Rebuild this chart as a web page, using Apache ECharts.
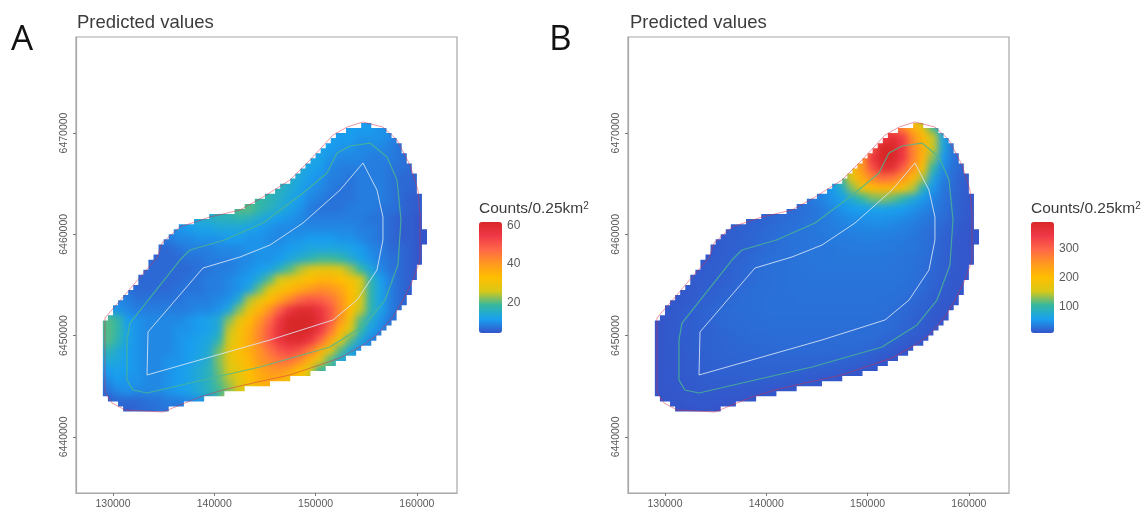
<!DOCTYPE html>
<html><head><meta charset="utf-8">
<style>html,body{margin:0;padding:0;background:#fff}#c{width:1145px;height:513px}
canvas[data-zr-dom-id="zr_0"]{filter:blur(3.5px)}</style>
<script src="https://cdn.jsdelivr.net/npm/echarts@6/dist/echarts.min.js"></script>
</head><body><div id="c"></div>
<script>
// Tick labels
const xTicks = [130000, 140000, 150000, 160000];
const yTicks = [6440000, 6450000, 6460000, 6470000];
const legendTicksA = [20, 40, 60];
const legendTicksB = [100, 200, 300];
const legendRangeA = [4, 62];
const legendRangeB = [10, 393];

// 1 km raster: row lower edge (km northing), first column of each row (km easting)
const rowY = [6470,6469,6468,6467,6466,6465,6464,6463,6462,6461,6460,6459,6458,6457,6456,6455,6454,6453,6452,6451,6450,6449,6448,6447,6446,6445,6444,6443,6442];
const rowStart = [152,150,149,148,147,146,145,143,140,137,135,134,134,133,132,132,131,130,129,129,129,129,129,129,129,129,129,129,131];

const valuesA = [
[10,11,11,11,10,9],
[12,12,11,11,10,10,10,9,7],
[13,12,11,10,10,9,9,9,8,7],
[14,13,12,10,9,9,9,8,8,8,7,6],
[15,14,12,11,9,8,8,8,8,8,7,7,6],
[16,15,13,11,10,8,8,7,8,8,8,7,6,6],
[17,16,14,12,10,9,8,7,7,8,8,8,7,6,6,5],
[19,18,17,15,13,11,9,8,7,7,7,8,8,8,7,6,5,5],
[17,18,20,20,18,16,14,12,10,8,7,7,7,8,8,8,7,7,6,5,5],
[12,14,15,16,16,17,16,14,12,11,10,9,8,8,8,8,8,8,7,7,6,5,5,4],
[9,10,11,12,12,13,13,13,12,11,10,9,9,9,9,9,9,9,9,8,8,7,6,5,5,4],
[7,8,9,9,10,10,10,11,11,10,10,9,9,10,10,11,11,11,10,10,9,8,7,6,5,5,4],
[6,6,7,8,8,8,9,9,9,10,10,10,10,11,12,13,13,13,13,12,11,9,8,6,6,5,4],
[6,6,6,6,7,7,8,8,8,9,9,10,10,11,13,15,17,19,19,18,15,12,10,8,7,6,5,4],
[6,6,6,6,6,6,7,7,8,8,9,10,11,12,16,20,24,27,29,29,27,23,18,13,9,7,6,5,4],
[6,6,6,6,6,7,7,8,8,9,10,11,14,20,26,29,31,33,35,35,33,31,26,17,11,8,6,5],
[7,6,6,6,6,7,7,7,8,8,9,10,13,21,28,31,34,37,40,42,41,38,33,26,17,12,8,6,5],
[9,8,7,7,7,7,7,8,8,8,9,10,14,24,29,33,38,43,48,50,49,46,41,34,26,17,12,8,6,5],
[12,10,9,8,8,8,8,8,8,9,9,10,13,22,29,35,41,49,56,60,60,56,50,42,33,25,17,12,8,6],
[20,18,11,10,9,9,9,9,10,11,12,14,22,29,34,40,47,56,62,64,62,58,50,40,30,20,14,10,7],
[20,18,12,10,9,9,9,10,10,11,12,14,25,31,36,43,50,58,63,64,61,55,46,35,26,18,12,9,7],
[20,17,12,10,9,9,9,10,11,12,13,17,26,31,37,43,50,56,60,60,56,48,38,28,20,13,9,7],
[17,14,11,10,9,9,9,10,11,12,14,21,28,32,36,41,46,51,53,51,45,36,27,20,13,9],
[14,13,11,10,9,9,10,10,11,13,15,22,28,31,35,40,43,46,46,42,35,28,20,13],
[11,12,11,10,9,9,10,11,12,14,16,21,26,29,33,37,40,41,38,33,26,18],
[9,11,10,10,9,9,10,11,12,14,16,20,24,28,32,36,37,35,30],
[7,9,10,9,9,9,10,11,12,14,16,19,22,26],
[5,6,6,6,7,7,8,8,9,10],
[5,6,6,7,7]
];

const valuesB = [
[300,270,220,175,110,60],
[270,340,370,340,260,210,150,65,35],
[200,320,393,393,350,270,220,150,70,30],
[180,250,350,393,393,350,275,215,130,55,30,20],
[125,185,250,320,375,370,310,250,190,100,45,28,20],
[62,110,175,225,265,290,285,250,210,140,68,38,25,18],
[40,55,80,130,175,205,215,210,190,145,90,52,33,24,17,12],
[30,34,40,50,62,80,105,125,130,120,100,75,55,40,30,22,16,12],
[20,22,24,27,30,35,42,50,56,60,62,62,60,57,50,42,35,28,22,15,12],
[16,18,20,22,24,26,28,30,34,38,42,46,48,50,50,48,44,40,34,30,26,20,15,12],
[14,16,18,20,22,24,26,28,30,32,34,36,38,40,41,42,42,40,38,34,30,26,21,17,13,11],
[13,15,17,19,21,23,25,27,29,30,31,32,34,35,36,37,37,36,35,34,32,28,24,19,15,12,11],
[13,15,17,19,21,23,25,27,29,30,31,31,32,33,34,34,34,34,33,32,31,29,24,19,14,12,11],
[13,15,16,18,20,23,25,27,28,29,30,31,31,32,32,32,32,32,32,31,30,29,27,23,18,14,12,11],
[13,14,16,17,19,22,24,26,27,28,29,30,30,31,31,31,31,31,31,31,30,30,29,26,22,18,14,12,11],
[14,15,16,17,19,22,24,26,27,28,29,29,30,30,30,30,30,30,30,30,30,29,28,25,21,17,13,12],
[13,14,16,17,19,21,24,26,27,27,28,29,29,29,29,29,29,29,29,29,29,29,28,26,23,19,15,13,12],
[12,13,15,17,18,21,23,25,26,27,28,28,28,29,29,29,29,29,29,29,29,28,28,26,24,21,17,14,12,11],
[12,13,15,16,18,21,23,25,26,26,27,28,28,28,28,28,28,28,28,28,28,28,27,26,24,21,18,15,13,11],
[11,13,15,16,18,20,23,24,25,26,26,27,27,27,27,27,27,27,27,27,27,27,26,25,22,19,16,13,11],
[11,13,15,16,18,19,22,23,24,25,25,26,26,26,26,26,26,26,26,26,26,26,25,23,21,18,15,13,11],
[11,13,15,16,18,19,20,22,23,24,24,24,25,25,25,25,25,25,25,25,25,24,22,20,17,14,12,11],
[11,13,14,16,18,19,20,21,22,22,23,23,23,24,24,24,24,24,23,23,22,20,18,15,12,11],
[11,13,14,15,16,18,19,20,20,21,21,21,21,21,21,21,21,20,20,19,17,15,12,11],
[11,12,14,15,16,17,18,18,19,19,19,19,19,19,18,17,17,16,15,14,12,11],
[11,12,13,14,15,16,16,16,16,16,16,16,16,15,15,14,13,12,11],
[11,11,12,13,14,14,14,14,14,13,13,12,11,11],
[10,11,11,12,12,12,12,11,11,11],
[10,10,11,11,10]
];

// Stepped study-area edge: top of each 0.5 km row (km northing) and its [west, east] extent (km)
const edgeTop = 6471;
const edgeRows = [
[154.5,155.5],[153,157],[152,157.5],[151.5,158],[151,158.5],[150.5,158.5],[150,159],[149.5,159],[149,159.5],[148.5,159.5],
[148,160],[147.5,160],[146.5,160],[146,160],[145,160.5],[144,160.5],[143,160.5],[142,160.5],[139.5,160.5],[138,160.5],
[136.5,160.5],[136,161],[135.5,161],[135,161],[134.5,160.5],[134.5,160.5],[134,160.5],[133.5,160.5],[133.5,160],[133,160],
[132.5,160],[132.5,159.5],[132,159.5],[131.5,159.5],[131,159],[130.5,159],[130,158.5],[130,158],[129.5,158],[129,157.5],
[129,157],[129,156.5],[129,156],[129,155.5],[129,154.5],[129,154],[129,153],[129,152],[129,151],[129,149.5],
[129,147.5],[129,145.5],[129,143],[129,141],[129.5,139],[130.5,137],[131,135.5]
];

// Survey lines in km (easting, northing)
const outerLine = [[129.21,6451.74],[131.18,6454.01],[132.17,6455.19],[134.34,6457.66],[134.84,6459.14],[136.61,6460.72],[139.58,6461.71],[142.54,6462.40],[144.81,6463.68],[147.47,6465.36],[149.45,6467.33],[151.72,6469.80],[153.10,6470.59],[154.68,6471.09],[156.65,6470.59],[158.04,6469.31],[159.32,6466.84],[160.11,6464.37],[160.31,6461.91],[160.31,6457.46],[159.61,6455.49],[158.63,6453.51],[157.64,6451.84],[156.06,6450.06],[154.68,6449.07],[152.41,6447.79],[147.47,6446.11],[143.82,6445.32],[140.86,6444.63],[138.59,6443.94],[137.11,6443.35],[134.94,6442.46],[131.18,6442.66],[129.90,6443.35],[129.21,6444.43],[129.21,6451.74]];
const greenLine = [[155.37,6469.01],[157.05,6467.63],[158.04,6465.36],[158.43,6461.41],[158.13,6456.97],[156.85,6453.51],[154.88,6451.05],[151.42,6448.87],[144.51,6446.90],[138.88,6445.62],[133.36,6444.33],[131.97,6444.63],[131.38,6445.62],[131.38,6449.57],[131.68,6451.24],[136.61,6457.46],[137.60,6458.45],[141.00,6459.44],[144.81,6461.12],[148.76,6464.08],[151.13,6466.05],[152.11,6468.03],[153.40,6468.72],[155.37,6469.01]];
const whiteLine = [[154.68,6467.04],[152.41,6464.37],[148.76,6461.12],[145.50,6458.94],[142.54,6457.76],[138.88,6456.67],[133.46,6450.36],[133.36,6446.11],[145.50,6449.57],[151.72,6451.54],[154.09,6453.51],[156.06,6456.48],[156.65,6459.44],[156.65,6461.71],[156.06,6464.37],[154.68,6467.04]];

const ramp = ['#3454ca','#18a0f0','#35b8a0','#d8c818','#ffbe00','#ff9820','#ff6848','#f03848','#d82828'];
const toM = a => a.map(p => [p[0]*1000, p[1]*1000]);
const cells = rows => {
  const out = [];
  rows.forEach((r,i) => r.forEach((v,j) => out.push([(rowStart[i]+j)*1000, rowY[i]*1000, v])));
  return out;
};
const edgeM = () => {
  const right = [], left = [];
  edgeRows.forEach((r,i) => {
    const t = edgeTop - i*0.5, b = t - 0.5;
    right.push([r[1]*1000,t*1000],[r[1]*1000,b*1000]);
    left.push([r[0]*1000,t*1000],[r[0]*1000,b*1000]);
  });
  return right.concat(left.reverse());
};
const edge = edgeM();
// pad: extra width in metres, so colour continues beyond the stepped edge before it is masked
const renderCell = pad => (params, api) => {
  const x = api.value(0), y = api.value(1);
  const a = api.coord([x-pad, y+1000+pad]), b = api.coord([x+1000+pad, y-pad]);
  return {
    type:'rect',
    shape:{x:a[0]-0.5, y:a[1]-0.5, width:b[0]-a[0]+1, height:b[1]-a[1]+1},
    style:{fill:api.visual('color')}
  };
};
// white sheet over the plot panel with a hole in the shape of the study area
const renderMask = (params, api) => {
  const r = params.coordSys;
  const pts = [[r.x,r.y],[r.x,r.y+r.height],[r.x+r.width,r.y+r.height],[r.x+r.width,r.y],[r.x,r.y]];
  const hole = edge.map(p => api.coord(p));
  return {type:'polygon', shape:{points:pts.concat(hole, [hole[0], [r.x,r.y]])}, style:{fill:'#fff'}};
};
const axisText = {color:'#5a5a5a', fontSize:10.5, fontFamily:'Liberation Sans'};
const TOP = 1;
const xAxis = gridIndex => ({
  type:'value', gridIndex, zlevel:TOP, z:5, min:126350, max:163960, splitLine:{show:false},
  axisLine:{onZero:false, lineStyle:{color:'#a8a8a8', width:1.2}},
  axisTick:{length:3, customValues:xTicks, lineStyle:{color:'#777'}},
  axisLabel:Object.assign({customValues:xTicks, margin:6, formatter:v => String(v)}, axisText)
});
const yAxis = gridIndex => ({
  type:'value', gridIndex, zlevel:TOP, z:5, min:6434460, max:6479480, splitLine:{show:false},
  axisLine:{onZero:false, lineStyle:{color:'#a8a8a8', width:1.2}},
  axisTick:{length:3, customValues:yTicks, lineStyle:{color:'#777'}},
  axisLabel:Object.assign({customValues:yTicks, rotate:90, margin:6, formatter:v => String(v)}, axisText)
});
const legendY = (gridIndex, range, ticks) => ({
  type:'value', gridIndex, zlevel:TOP, position:'right', min:range[0], max:range[1], splitLine:{show:false},
  axisLine:{show:false}, axisTick:{show:false},
  axisLabel:Object.assign({customValues:ticks, margin:5}, axisText, {fontSize:12})
});
const lineS = (i, data, color, width, opacity) => ({
  type:'line', xAxisIndex:i, yAxisIndex:i, data:toM(data), showSymbol:false, silent:true,
  lineStyle:{color, width, opacity}, zlevel:TOP, z:3, animation:false
});
const cellS = (i, rows, pad, z) => ({
  type:'custom', xAxisIndex:i, yAxisIndex:i, data:cells(rows), renderItem:renderCell(pad),
  encode:{x:0, y:1}, animation:false, silent:true, clip:false, zlevel:0, z
});
const maskS = i => ({
  type:'custom', xAxisIndex:i, yAxisIndex:i, data:[[0]], renderItem:renderMask, silent:true,
  animation:false, clip:false, zlevel:TOP, z:1
});
const grids = [
  {left:76, top:37, width:381, height:456},
  {left:628, top:37, width:381, height:456},
  {left:479, top:222, width:23, height:111},
  {left:1031, top:222, width:23, height:111}
].map((g,i) => Object.assign(g, {zlevel:TOP, z:5}, i<2 ? {show:true, borderColor:'#a8a8a8', borderWidth:1.2} : {show:false}));

const titleStyle = {color:'#3c3c3c', fontSize:18.5, fontFamily:'Liberation Sans', fontWeight:'normal'};
const legendFont = {color:'#3c3c3c', fontFamily:'Liberation Sans', fontWeight:'normal'};
const legendTitleStyle = Object.assign({fontSize:15.5}, legendFont, {
  rich:{t:Object.assign({fontSize:15.5}, legendFont), sup:Object.assign({fontSize:10, verticalAlign:'top', padding:[0,0,6,0]}, legendFont)}
});
const panelStyle = {color:'#111', fontSize:35, fontFamily:'Open Sans', fontWeight:'normal'};
const vm = (seriesIndex, range, left) => ({
  type:'continuous', seriesIndex, dimension:2, min:range[0], max:range[1], left, top:222, padding:0,
  itemWidth:23, itemHeight:111, showLabel:false, text:null, calculable:false, hoverLink:false,
  inRange:{color:ramp}, zlevel:TOP
});
const ttl = (text, left, top, textStyle) => ({text, left, top, padding:0, textStyle, zlevel:TOP});

echarts.init(document.getElementById('c'), null, {renderer:'canvas'}).setOption({
  animation:false,
  title:[
    ttl('Predicted values', 77, 13, titleStyle),
    ttl('Predicted values', 630, 13, titleStyle),
    ttl('A', 11, 23, panelStyle),
    ttl('B', 549, 23, panelStyle),
    ttl('{t|Counts/0.25km}{sup|2}', 479, 201, legendTitleStyle),
    ttl('{t|Counts/0.25km}{sup|2}', 1031, 201, legendTitleStyle)
  ],
  grid:grids,
  xAxis:[xAxis(0), xAxis(1), {type:'value', gridIndex:2, show:false, zlevel:TOP}, {type:'value', gridIndex:3, show:false, zlevel:TOP}],
  yAxis:[yAxis(0), yAxis(1), legendY(2, legendRangeA, legendTicksA), legendY(3, legendRangeB, legendTicksB)],
  visualMap:[vm([0,2], legendRangeA, 479), vm([1,3], legendRangeB, 1031)],
  series:[
    cellS(0, valuesA, 1500, 1), cellS(1, valuesB, 1500, 1),
    cellS(0, valuesA, 0, 2), cellS(1, valuesB, 0, 2),
    maskS(0), maskS(1),
    lineS(0, outerLine, '#d8304a', 1, 0.5), lineS(0, greenLine, '#4cb890', 1.2, 0.8), lineS(0, whiteLine, '#dbe8f7', 1, 0.85),
    lineS(1, outerLine, '#d8304a', 1, 0.5), lineS(1, greenLine, '#4cb890', 1.2, 0.8), lineS(1, whiteLine, '#dbe8f7', 1, 0.85)
  ]
});
</script></body></html>
